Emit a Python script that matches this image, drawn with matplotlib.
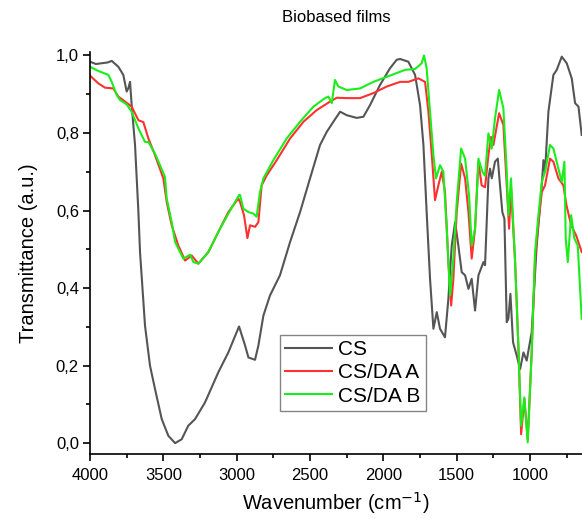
import matplotlib
matplotlib.use("Agg")
import matplotlib.pyplot as plt
from matplotlib.ticker import MultipleLocator, FuncFormatter

plt.rcParams['font.family'] = ['Liberation Sans', 'DejaVu Sans']

# ---- data (wavenumber cm-1, transmittance a.u.) ----
cs_wn = [4000, 3960, 3920, 3880, 3852, 3807, 3773, 3750, 3739, 3727, 3716, 3693, 3670, 3659, 3625,
         3591, 3557, 3511, 3466, 3420, 3375, 3330, 3284, 3216, 3125, 3057, 2984, 2943, 2920, 2875,
         2852, 2818, 2773, 2705, 2636, 2568, 2500, 2432, 2386, 2341, 2295, 2250, 2182, 2136, 2091,
         2023, 1955, 1909, 1886, 1830, 1784, 1750, 1727, 1705, 1682, 1659, 1636, 1614, 1580, 1557,
         1534, 1511, 1489, 1466, 1443, 1420, 1398, 1375, 1352, 1318, 1307, 1284, 1273, 1261, 1239,
         1220, 1205, 1189, 1175, 1159, 1148, 1134, 1116, 1091, 1068, 1045, 1023, 989, 955, 920,
         909, 898, 875, 841, 818, 784, 750, 716, 693, 670, 648]
cs_t = [0.984, 0.978, 0.980, 0.982, 0.986, 0.971, 0.950, 0.907, 0.915, 0.932, 0.872, 0.769, 0.596, 0.493, 0.303,
        0.200, 0.140, 0.062, 0.019, 0.000, 0.010, 0.045, 0.062, 0.105, 0.183, 0.234, 0.301, 0.252, 0.221, 0.215,
        0.252, 0.329, 0.381, 0.433, 0.519, 0.596, 0.683, 0.769, 0.803, 0.829, 0.855, 0.846, 0.839, 0.842, 0.872,
        0.924, 0.967, 0.989, 0.991, 0.984, 0.950, 0.872, 0.769, 0.596, 0.424, 0.295, 0.338, 0.295, 0.273, 0.372,
        0.510, 0.570, 0.510, 0.441, 0.433, 0.398, 0.424, 0.342, 0.433, 0.467, 0.459, 0.683, 0.708, 0.683, 0.726,
        0.734, 0.665, 0.596, 0.579, 0.312, 0.321, 0.385, 0.260, 0.226, 0.191, 0.234, 0.213, 0.286, 0.510, 0.665,
        0.730, 0.700, 0.855, 0.950, 0.963, 0.997, 0.980, 0.941, 0.877, 0.868, 0.795]

a_wn = [4000, 3943, 3898, 3841, 3807, 3761, 3716, 3670, 3636, 3602, 3557, 3500, 3477, 3443, 3398,
        3352, 3307, 3261, 3193, 3125, 3057, 2989, 2977, 2950, 2927, 2909, 2875, 2852, 2830, 2795,
        2727, 2636, 2545, 2455, 2364, 2318, 2250, 2159, 2068, 1977, 1886, 1830, 1761, 1716, 1693,
        1670, 1648, 1625, 1602, 1580, 1557, 1538, 1523, 1500, 1470, 1443, 1420, 1398, 1375, 1352,
        1330, 1307, 1284, 1266, 1250, 1211, 1182, 1159, 1143, 1130, 1102, 1080, 1061, 1039, 1016,
        989, 966, 943, 920, 898, 864, 841, 807, 773, 752, 720, 686, 648]
a_t = [0.948, 0.928, 0.917, 0.915, 0.894, 0.881, 0.868, 0.833, 0.828, 0.786, 0.743, 0.683, 0.622, 0.562, 0.510,
       0.471, 0.484, 0.463, 0.493, 0.545, 0.596, 0.631, 0.622, 0.588, 0.529, 0.562, 0.558, 0.570, 0.665, 0.691,
       0.730, 0.786, 0.829, 0.859, 0.881, 0.891, 0.890, 0.890, 0.903, 0.920, 0.932, 0.932, 0.941, 0.932, 0.855,
       0.743, 0.627, 0.665, 0.700, 0.648, 0.467, 0.355, 0.424, 0.596, 0.721, 0.683, 0.596, 0.476, 0.553, 0.726,
       0.665, 0.660, 0.743, 0.790, 0.769, 0.851, 0.821, 0.665, 0.553, 0.657, 0.467, 0.252, 0.023, 0.114, 0.010,
       0.234, 0.476, 0.570, 0.648, 0.665, 0.734, 0.726, 0.683, 0.665, 0.614, 0.562, 0.536, 0.493]

b_wn = [4000, 3943, 3875, 3852, 3818, 3795, 3750, 3716, 3670, 3625, 3602, 3557, 3489, 3477, 3443,
        3420, 3364, 3318, 3295, 3261, 3193, 3125, 3057, 3011, 2984, 2977, 2955, 2920, 2886, 2864,
        2841, 2818, 2750, 2659, 2568, 2477, 2398, 2375, 2352, 2330, 2307, 2250, 2159, 2068, 1977,
        1886, 1852, 1784, 1739, 1723, 1705, 1682, 1659, 1641, 1614, 1591, 1568, 1545, 1523, 1500,
        1470, 1443, 1416, 1398, 1375, 1352, 1325, 1307, 1284, 1261, 1239, 1211, 1182, 1159, 1148,
        1130, 1102, 1080, 1061, 1039, 1016, 989, 966, 943, 920, 898, 864, 841, 807, 784,
        766, 757, 743, 720, 698, 675, 648]
b_t = [0.971, 0.960, 0.950, 0.932, 0.898, 0.885, 0.874, 0.855, 0.812, 0.777, 0.777, 0.747, 0.687, 0.631, 0.570,
       0.519, 0.476, 0.486, 0.467, 0.463, 0.493, 0.545, 0.592, 0.622, 0.640, 0.640, 0.605, 0.596, 0.592, 0.584,
       0.648, 0.683, 0.730, 0.786, 0.829, 0.868, 0.890, 0.894, 0.877, 0.937, 0.920, 0.911, 0.915, 0.932, 0.945,
       0.958, 0.963, 0.965, 0.980, 1.000, 0.967, 0.855, 0.743, 0.683, 0.717, 0.700, 0.553, 0.381, 0.476, 0.622,
       0.760, 0.734, 0.640, 0.510, 0.553, 0.734, 0.700, 0.690, 0.799, 0.760, 0.838, 0.911, 0.864, 0.700, 0.588,
       0.683, 0.467, 0.252, 0.045, 0.118, 0.002, 0.234, 0.493, 0.588, 0.674, 0.700, 0.769, 0.760, 0.708, 0.674,
       0.726, 0.528, 0.467, 0.588, 0.528, 0.510, 0.321]

labels = ["CS", "CS/DA A", "CS/DA B"]
colors = ["#555555", "#ff3030", "#1aee1a"]

W, H = 582, 519
fig = plt.figure(figsize=(W / 100, H / 100), dpi=100)
ax = fig.add_axes([90 / W, 1 - 454 / H, 492 / W, (454 - 52) / H])

for wn, t, lab, c in zip([cs_wn, a_wn, b_wn], [cs_t, a_t, b_t], labels, colors):
    ax.plot(wn, t, color=c, lw=1.5, label=lab)

ax.set_xlim(4000, 646)
ax.set_ylim(-0.028, 1.009)
ax.spines['top'].set_visible(False)
ax.spines['right'].set_visible(False)
ax.spines['left'].set_linewidth(1.2)
ax.spines['bottom'].set_linewidth(1.2)

ax.xaxis.set_major_locator(MultipleLocator(500))
ax.xaxis.set_minor_locator(MultipleLocator(250))
ax.yaxis.set_major_locator(MultipleLocator(0.2))
ax.yaxis.set_minor_locator(MultipleLocator(0.1))
ax.yaxis.set_major_formatter(FuncFormatter(lambda v, p: f"{v:.1f}".replace('.', ',')))
ax.tick_params(which='major', direction='out', length=5, width=1.2, labelsize=12)
ax.tick_params(which='minor', direction='out', length=3, width=1.2)
ax.tick_params(axis='x', which='major', pad=5)
ax.tick_params(axis='y', which='major', pad=3)

ax.set_xlabel("Wavenumber (cm$^{-1}$)", fontsize=14.5, labelpad=5)
ax.set_ylabel("Transmittance (a.u.)", fontsize=14.5, labelpad=13)
fig.text(336 / W, 1 - 18 / H, "Biobased films", ha='center', va='center', fontsize=12)

leg = ax.legend(loc='upper left', bbox_to_anchor=((280 - 90) / 492, (454 - 335) / 402),
                fontsize=15, frameon=True, fancybox=False, edgecolor='#666666',
                handlelength=2.25, handletextpad=0.3, borderpad=0.25, labelspacing=0.2,
                borderaxespad=0)
leg.get_frame().set_linewidth(1.0)

fig.savefig("out.png", dpi=100)
